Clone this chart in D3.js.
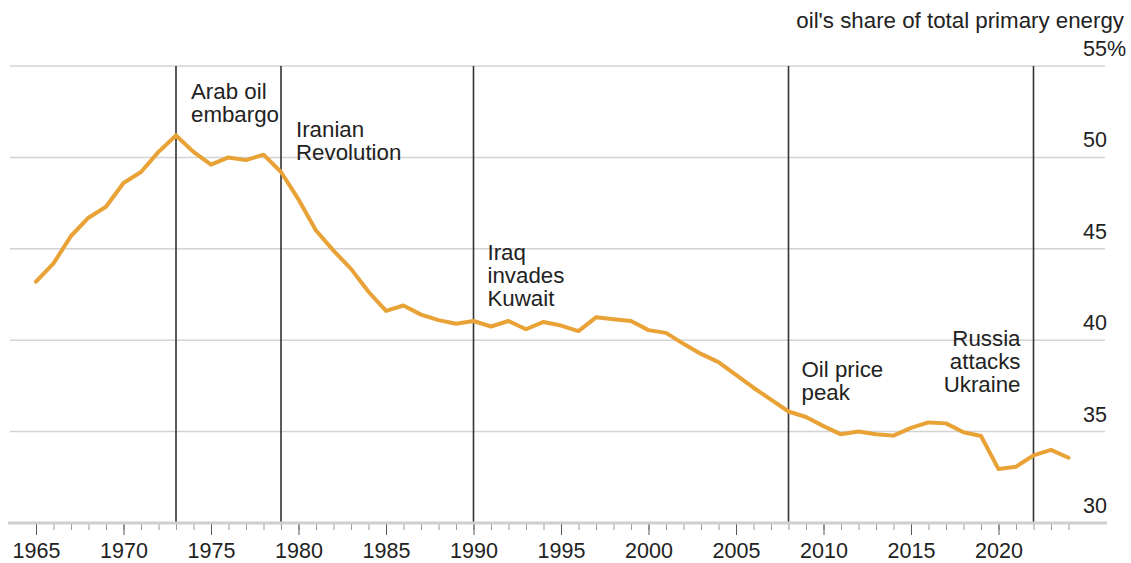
<!DOCTYPE html>
<html>
<head>
<meta charset="utf-8">
<script src="https://cdn.jsdelivr.net/npm/d3@7"></script>
<style>
  html, body { margin: 0; padding: 0; background: #fff; }
  svg { display: block; }
  text { font-family: "Liberation Sans", Arial, Helvetica, sans-serif; fill: #222; }
</style>
</head>
<body>
<svg id="chart" width="1131" height="563"></svg>
<script>
// Oil's share of total primary energy, world, 1965-2024 (%)
const years = d3.range(1965, 2025);
const oilShare = [
  43.2, 44.2, 45.7, 46.7, 47.3, 48.6, 49.2, 50.3, 51.2, 50.3,
  49.6, 50.0, 49.85, 50.15, 49.2, 47.7, 46.0, 44.9, 43.9, 42.65,
  41.6, 41.9, 41.4, 41.1, 40.9, 41.05, 40.75, 41.05, 40.6, 41.0,
  40.8, 40.5, 41.25, 41.15, 41.05, 40.55, 40.4, 39.8, 39.25, 38.8,
  38.1, 37.4, 36.75, 36.1, 35.8, 35.3, 34.85, 35.0, 34.85, 34.78,
  35.2, 35.5, 35.45, 34.96, 34.76, 32.95, 33.08, 33.7, 34.0, 33.57
];

// Events marked with vertical rules
const eventYears = [1973, 1979, 1990, 2008, 2022];
const eventLabels = [
  ["Arab oil", "embargo"],
  ["Iranian", "Revolution"],
  ["Iraq", "invades", "Kuwait"],
  ["Oil price", "peak"],
  ["Russia", "attacks", "Ukraine"]
];

const yTicks = [30, 35, 40, 45, 50, 55];
const majorYears = d3.range(1965, 2021, 5);
const unitLabel = "oil's share of total primary energy";

const svg = d3.select("#chart");

const x = d3.scaleLinear().domain([1965, 2024]).range([36, 1068.5]);
const y = d3.scaleLinear().domain([30, 55]).range([523, 66]);

// Horizontal gridlines
svg.append("g")
  .selectAll("line")
  .data(yTicks.filter(d => d !== 30))
  .join("line")
  .attr("x1", 10).attr("x2", 1105)
  .attr("y1", d => y(d)).attr("y2", d => y(d))
  .attr("stroke", "#d3d3d3")
  .attr("stroke-width", 1.5);

// Y tick labels, sitting just above each gridline
svg.append("g")
  .selectAll("text")
  .data(yTicks)
  .join("text")
  .attr("x", 1083)
  .attr("y", d => y(d) - 10)
  .attr("font-size", 21.5)
  .text(d => d === 55 ? d + "%" : d);

svg.append("text")
  .attr("x", 1124)
  .attr("y", 28)
  .attr("text-anchor", "end")
  .attr("font-size", 22.3)
  .text(unitLabel);

// Event rules
svg.append("g")
  .selectAll("line")
  .data(eventYears)
  .join("line")
  .attr("x1", d => x(d)).attr("x2", d => x(d))
  .attr("y1", y(55)).attr("y2", y(30))
  .attr("stroke", "#333")
  .attr("stroke-width", 1.6);

// X axis: minor (yearly) and major (5-yearly) ticks
const minorAxis = d3.axisBottom(x)
  .tickValues(years)
  .tickSize(7)
  .tickFormat("");
const majorAxis = d3.axisBottom(x)
  .tickValues(majorYears)
  .tickSize(12)
  .tickPadding(8)
  .tickFormat(d3.format("d"));

const gMinor = svg.append("g").attr("transform", `translate(0,${y(30)})`).call(minorAxis);
const gMajor = svg.append("g").attr("transform", `translate(0,${y(30)})`).call(majorAxis);
[gMinor, gMajor].forEach(g => {
  g.select(".domain").remove();
  g.selectAll(".tick line").attr("stroke", "#999").attr("stroke-width", 1);
});
gMajor.selectAll(".tick line").attr("stroke", "#555");
gMajor.selectAll(".tick text")
  .attr("font-size", 21.5)
  .attr("fill", "#222")
  .attr("font-family", "'Liberation Sans', Arial, sans-serif");

// Baseline
svg.append("line")
  .attr("x1", 8).attr("x2", 1107)
  .attr("y1", y(30)).attr("y2", y(30))
  .attr("stroke", "#cfcfcf")
  .attr("stroke-width", 3);

// Oil share line
const line = d3.line()
  .x((d, i) => x(years[i]))
  .y(d => y(d));

svg.append("path")
  .datum(oilShare)
  .attr("d", line)
  .attr("fill", "none")
  .attr("stroke", "#E8A235")
  .attr("stroke-width", 4)
  .attr("stroke-linejoin", "round")
  .attr("stroke-linecap", "round");

// Event annotations
const annoPos = [
  { dx: 15, y0: 99, anchor: "start" },
  { dx: 15, y0: 137, anchor: "start" },
  { dx: 14, y0: 260, anchor: "start" },
  { dx: 13, y0: 377, anchor: "start" },
  { dx: -13, y0: 346, anchor: "end" }
];
const lineH = 23;
eventYears.forEach((yr, i) => {
  const p = annoPos[i];
  const t = svg.append("text")
    .attr("x", x(yr) + p.dx)
    .attr("y", p.y0)
    .attr("text-anchor", p.anchor)
    .attr("font-size", 22.3);
  eventLabels[i].forEach((s, j) => {
    t.append("tspan")
      .attr("x", x(yr) + p.dx)
      .attr("y", p.y0 + j * lineH)
      .text(s);
  });
});
</script>
</body>
</html>
